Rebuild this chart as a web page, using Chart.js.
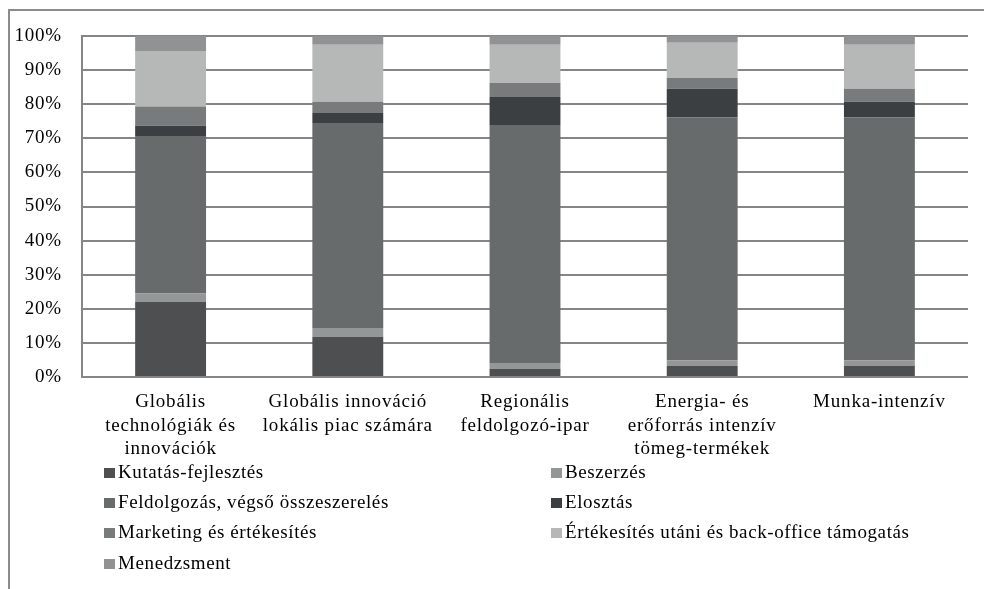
<!DOCTYPE html>
<html>
<head>
<meta charset="utf-8">
<script src="https://cdn.jsdelivr.net/npm/chart.js@4"></script>
<style>
  html, body { margin: 0; padding: 0; background: #fff; overflow: hidden; }
  #wrap { position: relative; width: 984px; height: 589px; }
  #frame { position: absolute; left: 8px; top: 9px; width: 1000px; height: 600px; border: 2px solid #8c8c8c; box-sizing: border-box; }
  #chart { position: absolute; left: 0; top: 0; }
  .leg { position: absolute; font: 19px "Liberation Serif", serif; line-height: 20px; letter-spacing: 0.6px; color: #000; white-space: nowrap; }
  .leg span { display: inline-block; width: 11px; height: 10px; margin-right: 3px; vertical-align: baseline; }
</style>
</head>
<body>
<div id="wrap">
  <div id="frame"></div>
  <canvas id="chart" width="984" height="589"></canvas>
</div>
<script>
// categories (one array of lines per bar)
var categories = [
    ["Globális", "technológiák és", "innovációk"],
    ["Globális innováció", "lokális piac számára"],
    ["Regionális", "feldolgozó-ipar"],
    ["Energia- és", "erőforrás intenzív", "tömeg-termékek"],
    ["Munka-intenzív"]
];

// shares in %, bottom to top
var kutatas     = [22.1, 11.8,  2.4,  3.2,  3.2];
var beszerzes   = [ 2.4,  2.6,  1.7,  1.7,  1.7];
var feldolgozas = [46.2, 60.1, 69.8, 71.3, 71.3];
var elosztas    = [ 3.0,  2.9,  8.2,  8.3,  4.5];
var marketing   = [ 5.6,  3.3,  4.1,  3.2,  3.8];
var ertekesites = [16.3, 16.7, 11.2, 10.3, 12.9];
var menedzsment = [ 4.4,  2.6,  2.6,  2.0,  2.6];

var seriesNames = [
    "Kutatás-fejlesztés",
    "Beszerzés",
    "Feldolgozás, végső összeszerelés",
    "Elosztás",
    "Marketing és értékesítés",
    "Értékesítés utáni és back-office támogatás",
    "Menedzsment"
];
var seriesData = [kutatas, beszerzes, feldolgozas, elosztas, marketing, ertekesites, menedzsment];
var seriesColors = ['#4e4f51', '#949797', '#686b6b', '#3c3f41', '#787b7b', '#b6b8b7', '#919293'];

var yTicks = [0, 10, 20, 30, 40, 50, 60, 70, 80, 90, 100];

Chart.defaults.font.family = '"Liberation Serif", serif';
Chart.defaults.font.size = 19;
Chart.defaults.color = '#000';

var datasets = seriesNames.map(function(name, i){
    return {
        label: name,
        data: seriesData[i],
        backgroundColor: seriesColors[i],
        borderWidth: 0,
        barPercentage: 0.4,
        categoryPercentage: 1.0
    };
});

// the original type is a little spaced out
var spacingPlugin = {
    id: 'spacing',
    beforeDraw: function(chart){ chart.ctx.letterSpacing = '0.8px'; }
};

var chart = new Chart(document.getElementById('chart'), {
    type: 'bar',
    data: { labels: categories, datasets: datasets },
    plugins: [spacingPlugin],
    options: {
        responsive: false,
        animation: false,
        layout: { padding: { top: 36, right: 16, left: 0, bottom: 0 } },
        plugins: { legend: { display: false }, tooltip: { enabled: false } },
        scales: {
            x: {
                stacked: true,
                grid: { display: false, drawTicks: false },
                border: { display: false },
                ticks: { padding: 13, maxRotation: 0, autoSkip: false, font: { lineHeight: 1.25 } },
                afterFit: function(scale){ scale.height = 212; }
            },
            y: {
                stacked: true,
                min: 0,
                max: 100,
                afterBuildTicks: function(scale){
                    scale.ticks = yTicks.map(function(v){ return { value: v }; });
                },
                grid: { color: '#868686', lineWidth: 2, drawTicks: false },
                border: { display: true, color: '#868686', width: 2 },
                ticks: {
                    padding: 20,
                    callback: function(v){ return v + '%'; }
                },
                afterFit: function(scale){ scale.width = 82; }
            }
        }
    }
});

// legend in two columns, like the original
var legendCols = [104, 551];
var legendRowTop = [462, 492, 522, 553];
var wrap = document.getElementById('wrap');
seriesNames.forEach(function(name, i){
    var item = document.createElement('div');
    item.className = 'leg';
    item.style.left = legendCols[i % 2] + 'px';
    item.style.top = legendRowTop[Math.floor(i / 2)] + 'px';
    var box = document.createElement('span');
    box.style.background = seriesColors[i];
    item.appendChild(box);
    item.appendChild(document.createTextNode(name));
    wrap.appendChild(item);
});
</script>
</body>
</html>
